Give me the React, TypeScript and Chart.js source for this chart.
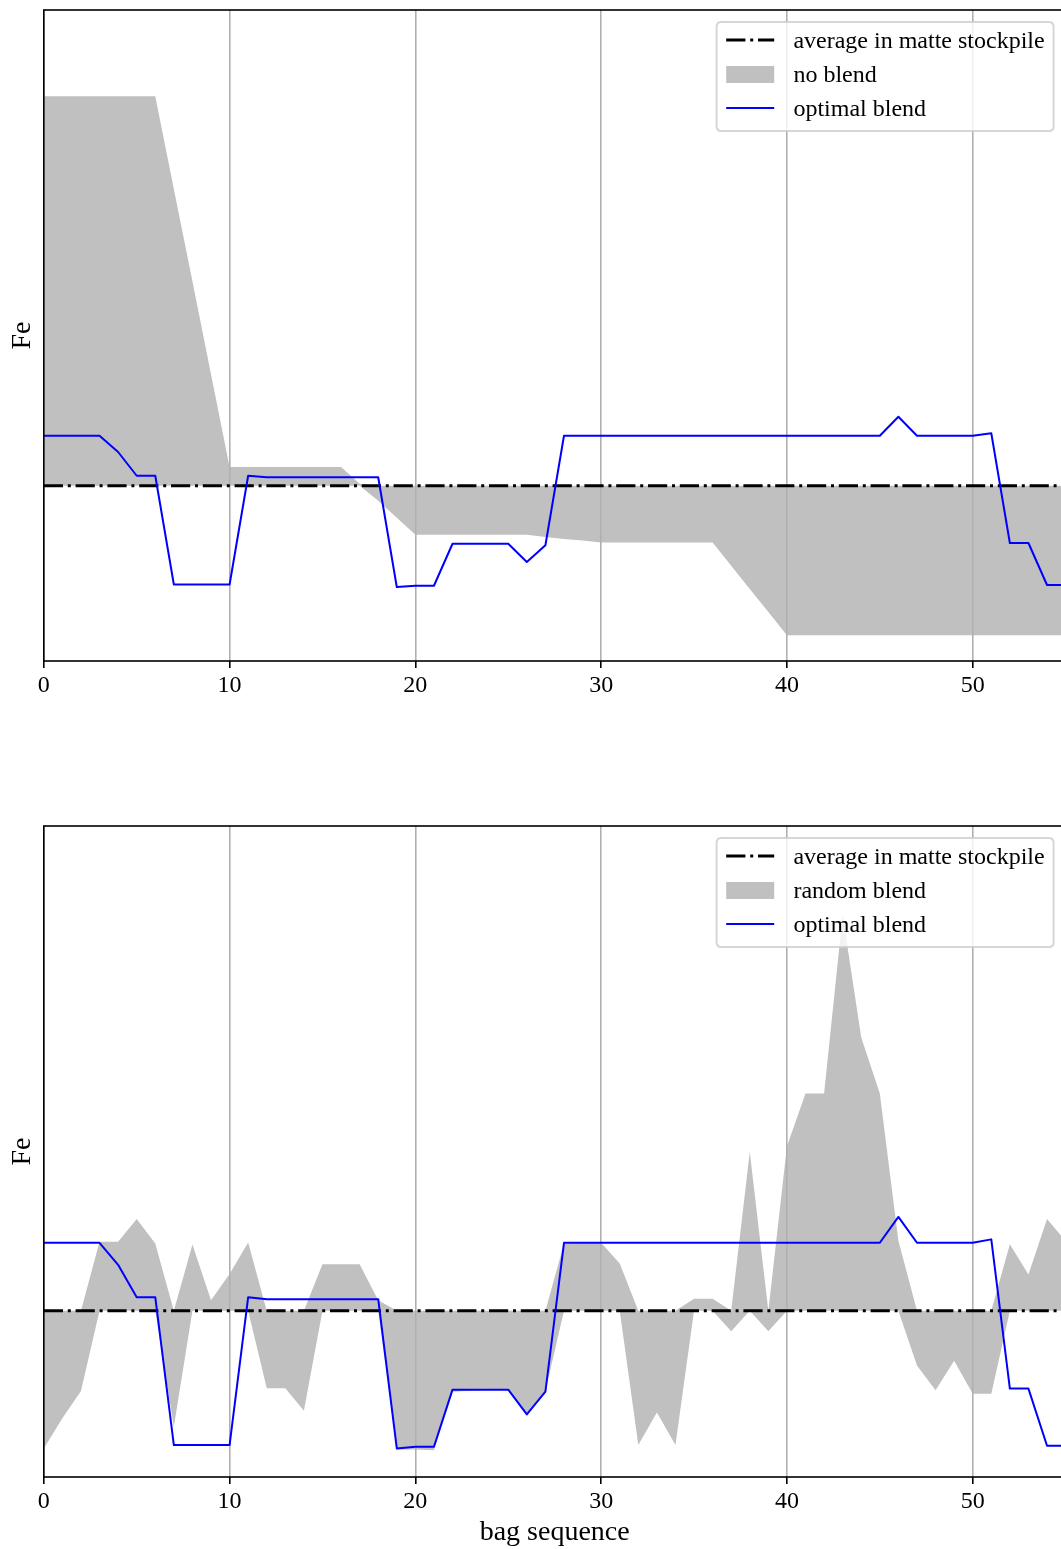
import React, { useEffect, useRef } from "react";
import { Chart, registerables } from "chart.js";

Chart.register(...registerables);

const SERIF = '"Liberation Serif", "Times New Roman", serif';

// Fe grade of each bag, in bag sequence order 0..55
const AVG_FE = 3.5;

const OPTIMAL_BLEND = [
  3.70, 3.70, 3.70, 3.70, 3.635, 3.54, 3.54, 3.105, 3.105, 3.105,
  3.105, 3.54, 3.534, 3.534, 3.534, 3.534, 3.534, 3.534, 3.534, 3.095,
  3.10, 3.10, 3.268, 3.268, 3.268, 3.268, 3.195, 3.262, 3.70, 3.70,
  3.70, 3.70, 3.70, 3.70, 3.70, 3.70, 3.70, 3.70, 3.70, 3.70,
  3.70, 3.70, 3.70, 3.70, 3.70, 3.70, 3.776, 3.70, 3.70, 3.70,
  3.70, 3.71, 3.271, 3.271, 3.103, 3.103,
];

const NO_BLEND = [
  5.058, 5.058, 5.058, 5.058, 5.058, 5.058, 5.058, 4.687, 4.318, 3.946,
  3.575, 3.575, 3.575, 3.575, 3.575, 3.575, 3.575, 3.508, 3.44, 3.372,
  3.304, 3.304, 3.304, 3.304, 3.304, 3.304, 3.304, 3.295, 3.287, 3.281,
  3.273, 3.273, 3.273, 3.273, 3.273, 3.273, 3.273, 3.18, 3.087, 2.995,
  2.902, 2.902, 2.902, 2.902, 2.902, 2.902, 2.902, 2.902, 2.902, 2.902,
  2.902, 2.902, 2.902, 2.902, 2.902, 2.902,
];

const RANDOM_BLEND = [
  3.095, 3.184, 3.264, 3.703, 3.703, 3.77, 3.698, 3.158, 3.695, 3.531,
  3.608, 3.701, 3.272, 3.272, 3.206, 3.637, 3.637, 3.637, 3.531, 3.092,
  3.092, 3.09, 3.262, 3.265, 3.267, 3.269, 3.196, 3.264, 3.697, 3.70,
  3.70, 3.639, 3.105, 3.201, 3.105, 3.535, 3.535, 3.44, 3.967, 3.44,
  3.984, 4.139, 4.139, 4.664, 4.304, 4.139, 3.706, 3.339, 3.266, 3.353,
  3.256, 3.256, 3.696, 3.607, 3.77, 3.705,
];

const X_TICKS = [0, 10, 20, 30, 40, 50];
const X_MAX = 55;
const TOP_Y_RANGE = [2.799, 5.403];
const BOTTOM_Y_RANGE = [3.011, 4.926];

const DASH_DOT = [19.2, 4.8, 3, 4.8];
const FILL_GREY = "#c0c0c0";
const BLUE = "#0000ff";

const CANVAS_W = 1080;

type PanelProps = {
  fillValues: number[];
  fillLabel: string;
  yRange: number[];
  height: number;
  padTop: number;
  axisHeight: number;
  xTitle?: string;
};

// axes frame (spines) on top of the plotted data
const framePlugin = {
  id: "frame",
  afterDatasetsDraw(chart: any) {
    const { ctx, chartArea: a } = chart;
    ctx.save();
    ctx.strokeStyle = "#000";
    ctx.lineWidth = 1.6;
    ctx.setLineDash([]);
    ctx.strokeRect(a.left, a.top, a.right - a.left, a.bottom - a.top);
    ctx.restore();
  },
};

function legendPlugin(fillLabel: string) {
  return {
    id: "blendLegend",
    afterDraw(chart: any) {
      const { ctx, chartArea: a } = chart;
      const w = 337;
      const h = 109;
      const x = a.right - 12 - w;
      const y = a.top + 12;
      const r = 4.8;
      ctx.save();
      ctx.beginPath();
      ctx.moveTo(x + r, y);
      ctx.lineTo(x + w - r, y);
      ctx.quadraticCurveTo(x + w, y, x + w, y + r);
      ctx.lineTo(x + w, y + h - r);
      ctx.quadraticCurveTo(x + w, y + h, x + w - r, y + h);
      ctx.lineTo(x + r, y + h);
      ctx.quadraticCurveTo(x, y + h, x, y + h - r);
      ctx.lineTo(x, y + r);
      ctx.quadraticCurveTo(x, y, x + r, y);
      ctx.closePath();
      ctx.fillStyle = "rgba(255,255,255,0.8)";
      ctx.fill();
      ctx.lineWidth = 2;
      ctx.strokeStyle = "rgba(204,204,204,0.8)";
      ctx.stroke();

      const hx0 = x + 9.6;
      const hx1 = hx0 + 48;
      const tx = hx1 + 19.2;
      const rows = [y + 18, y + 52, y + 86];

      // dash-dot handle
      ctx.beginPath();
      ctx.setLineDash(DASH_DOT);
      ctx.lineWidth = 3;
      ctx.strokeStyle = "#000";
      ctx.moveTo(hx0, rows[0]);
      ctx.lineTo(hx1, rows[0]);
      ctx.stroke();
      ctx.setLineDash([]);

      // fill handle
      ctx.fillStyle = FILL_GREY;
      ctx.fillRect(hx0, rows[1] - 8, 48, 17);

      // line handle
      ctx.beginPath();
      ctx.lineWidth = 2;
      ctx.strokeStyle = BLUE;
      ctx.moveTo(hx0, rows[2]);
      ctx.lineTo(hx1, rows[2]);
      ctx.stroke();

      ctx.fillStyle = "#000";
      ctx.font = `24px ${SERIF}`;
      ctx.textBaseline = "alphabetic";
      ctx.textAlign = "left";
      const labels = ["average in matte stockpile", fillLabel, "optimal blend"];
      labels.forEach((t, i) => ctx.fillText(t, tx, rows[i] + 8));
      ctx.restore();
    },
  };
}

function Panel({ fillValues, fillLabel, yRange, height, padTop, axisHeight, xTitle }: PanelProps) {
  const ref = useRef<HTMLCanvasElement>(null);

  useEffect(() => {
    const canvas = ref.current;
    if (!canvas) return;
    const points = (vals: number[]) => vals.map((y, x) => ({ x, y }));
    const upper = fillValues.map((v) => Math.max(v, AVG_FE));
    const lower = fillValues.map((v) => Math.min(v, AVG_FE));

    const chart = new Chart(canvas, {
      type: "line",
      data: {
        datasets: [
          {
            label: "optimal blend",
            data: points(OPTIMAL_BLEND),
            borderColor: BLUE,
            borderWidth: 2,
            borderJoinStyle: "round",
            pointRadius: 0,
            fill: false,
            tension: 0,
            order: 0,
          },
          {
            label: "average in matte stockpile",
            data: [
              { x: 0, y: AVG_FE },
              { x: X_MAX, y: AVG_FE },
            ],
            borderColor: "#000",
            borderWidth: 3,
            borderDash: DASH_DOT,
            pointRadius: 0,
            fill: false,
            order: 1,
          },
          {
            label: fillLabel,
            data: points(upper),
            borderColor: "rgba(0,0,0,0)",
            borderWidth: 0,
            backgroundColor: FILL_GREY,
            pointRadius: 0,
            fill: "+1",
            order: 2,
          },
          {
            label: fillLabel + " (lower edge)",
            data: points(lower),
            borderColor: "rgba(0,0,0,0)",
            borderWidth: 0,
            pointRadius: 0,
            fill: false,
            order: 3,
          },
        ],
      } as any,
      options: {
        animation: false,
        responsive: false,
        devicePixelRatio: 1,
        events: [],
        layout: { padding: { left: 0, right: CANVAS_W - 1065.6, top: padTop, bottom: 0 } },
        plugins: {
          legend: { display: false },
          tooltip: { enabled: false },
          filler: { drawTime: "beforeDraw", propagate: false },
        },
        scales: {
          x: {
            type: "linear",
            min: 0,
            max: X_MAX,
            afterBuildTicks: (s: any) => {
              s.ticks = X_TICKS.map((v) => ({ value: v }));
            },
            afterFit: (s: any) => {
              s.height = axisHeight;
            },
            ticks: {
              font: { family: SERIF, size: 24 },
              color: "#000",
              padding: 3.5,
              maxRotation: 0,
              autoSkip: false,
            },
            grid: {
              color: "#b0b0b0",
              lineWidth: 1.6,
              drawOnChartArea: true,
              drawTicks: true,
              tickLength: 7,
              tickColor: "#000",
              tickWidth: 1.6,
            },
            border: { display: false },
            title: {
              display: !!xTitle,
              text: xTitle || "",
              font: { family: SERIF, size: 28 },
              color: "#000",
              padding: { top: 0, bottom: 0 },
            },
          },
          y: {
            type: "linear",
            min: yRange[0],
            max: yRange[1],
            afterFit: (s: any) => {
              s.width = 43.8;
            },
            ticks: { display: false },
            grid: { display: false, drawTicks: false },
            border: { display: false },
            title: {
              display: true,
              text: "Fe",
              font: { family: SERIF, size: 28 },
              color: "#000",
              padding: { top: 6, bottom: 0 },
            },
          },
        },
      } as any,
      plugins: [framePlugin, legendPlugin(fillLabel)],
    });

    return () => chart.destroy();
  }, [fillValues, fillLabel, yRange, height, padTop, axisHeight, xTitle]);

  return (
    <canvas
      ref={ref}
      width={CANVAS_W}
      height={height}
      style={{ display: "block", width: CANVAS_W, height }}
    />
  );
}

export default function App() {
  return (
    <div
      style={{
        position: "fixed",
        left: 0,
        top: 0,
        width: 1061,
        height: 1549,
        overflow: "hidden",
        background: "#fff",
      }}
    >
      <Panel
        fillValues={NO_BLEND}
        fillLabel="no blend"
        yRange={TOP_Y_RANGE}
        height={770}
        padTop={10}
        axisHeight={109}
      />
      <Panel
        fillValues={RANDOM_BLEND}
        fillLabel="random blend"
        yRange={BOTTOM_Y_RANGE}
        height={779}
        padTop={56}
        axisHeight={72}
        xTitle="bag sequence"
      />
    </div>
  );
}
